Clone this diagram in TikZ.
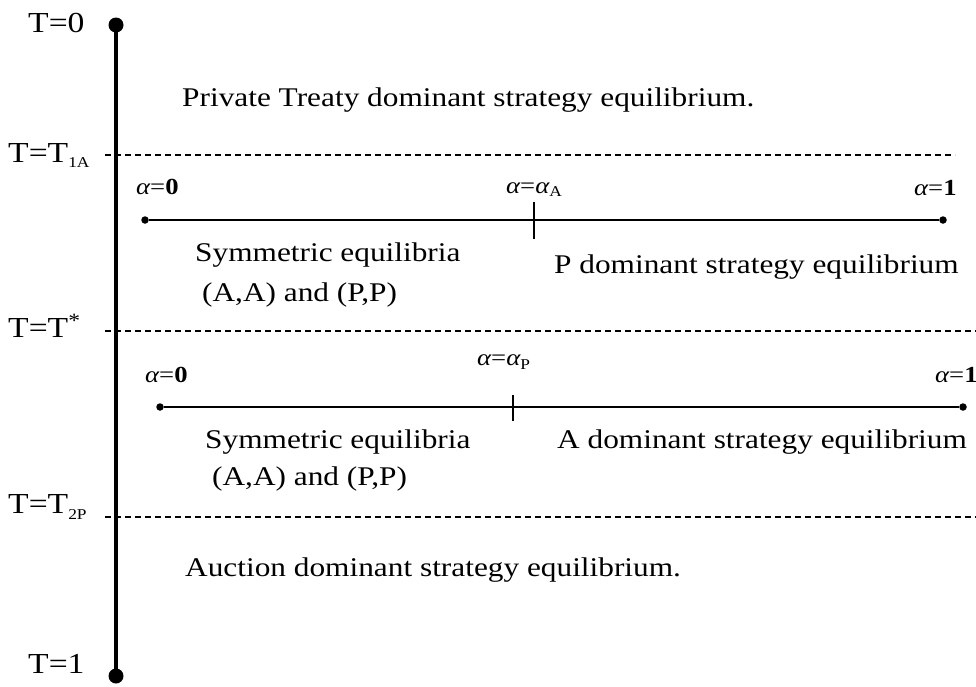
\documentclass[tikz,border=0pt]{standalone}
\usepackage{fontspec}
\setmainfont{Liberation Serif}[FakeStretch=1.16]
\newcommand{\mysub}[1]{\raisebox{-0.45ex}{\fontsize{15}{15}\selectfont #1}}
\newcommand{\al}{{\itshape α}}
\begin{document}
\begin{tikzpicture}[x=1pt,y=-1pt,
  lab/.style={anchor=base west, inner sep=0pt, font=\fontsize{27}{30}\selectfont},
  tlab/.style={anchor=base west, inner sep=0pt, font=\fontsize{29}{32}\selectfont},
  alab/.style={anchor=base west, inner sep=0pt, font=\fontsize{23}{26}\selectfont},
  sepline/.style={dash pattern=on 6pt off 4pt, line width=1.3pt},
  scaleline/.style={line width=1.4pt},
  enddot/.style={circle, fill, inner sep=0pt, minimum size=7.5pt},
  bigdot/.style={circle, fill, inner sep=0pt, minimum size=15pt},
  tickline/.style={line width=1.3pt}]
\useasboundingbox (0,0) rectangle (976,686);
% time axis
\node[bigdot] (top) at (116,25) {};
\node[bigdot] (bot) at (116,676) {};
\draw[line width=4pt] (top.center) -- (bot.center);
\node[tlab] (t0) at (28,32) {T=0};
\node[tlab] (t1) at (28,673) {T=1};
% separators
\coordinate (d1l) at (105,155); \coordinate (d1r) at (955,155);
\coordinate (d2l) at (105,331); \coordinate (d2r) at (976,331);
\coordinate (d3l) at (105,517); \coordinate (d3r) at (976,517);
\draw[sepline] (d1l) -- (d1r);
\draw[sepline] (d2l) -- (d2r);
\draw[sepline] (d3l) -- (d3r);
\node[tlab] (tA) at (8,162) {T=T\mysub{1A}};
\node[tlab] (tS) at (8,337) {T=T\textsuperscript{*}};
\node[tlab] (tP) at (8,513) {T=T\mysub{2P}};
% regions
\node[lab] (pt) at (182,106) {Private Treaty dominant strategy equilibrium.};
\node[lab] (au) at (185,576) {Auction dominant strategy equilibrium.};
% first alpha scale
\node[enddot] (s1l) at (145,220) {};
\node[enddot] (s1r) at (943,220) {};
\draw[scaleline] (s1l) -- (s1r);
\coordinate (k1a) at (534,202); \coordinate (k1b) at (534,239);
\draw[tickline] (k1a) -- (k1b);
\node[alab] (a10) at (136,194) {\al=\textbf{0}};
\node[alab] (a1m) at (506,193) {\al=\al{\fontsize{17}{17}\selectfont\mysub{A}}};
\node[alab] (a11) at (914,195) {\al=\textbf{1}};
\node[lab] (sy1) at (195,261) {Symmetric equilibria};
\node[lab] (aa1) at (202,301) {(A,A) and (P,P)};
\node[lab] (pd) at (554,273) {P dominant strategy equilibrium};
% second alpha scale
\node[enddot] (s2l) at (160,407) {};
\node[enddot] (s2r) at (963,407) {};
\draw[scaleline] (s2l) -- (s2r);
\coordinate (k2a) at (513,395); \coordinate (k2b) at (513,421);
\draw[tickline] (k2a) -- (k2b);
\node[alab] (a20) at (145,382) {\al=\textbf{0}};
\node[alab] (a2m) at (477,365) {\al=\al\mysub{P}};
\node[alab] (a21) at (935,382) {\al=\textbf{1}};
\node[lab] (sy2) at (205,448) {Symmetric equilibria};
\node[lab] (aa2) at (212,485) {(A,A) and (P,P)};
\node[lab] (ad) at (557,448) {A dominant strategy equilibrium};
\end{tikzpicture}
\end{document}
